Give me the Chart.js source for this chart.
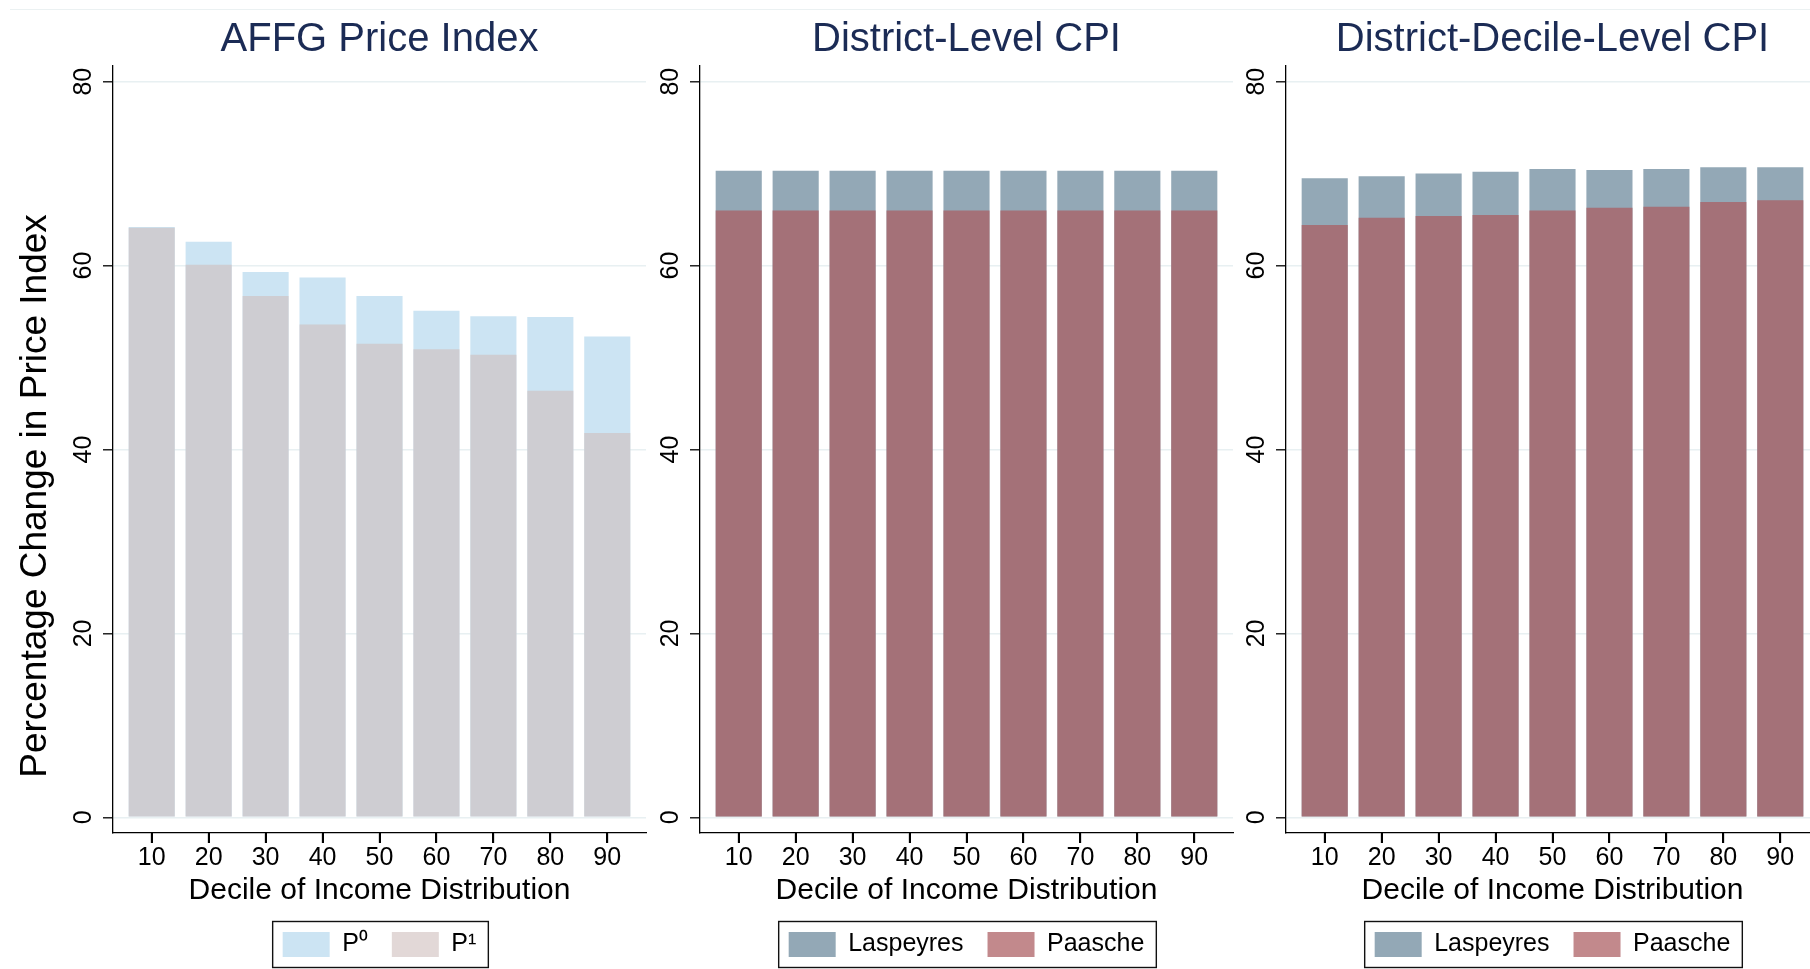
<!DOCTYPE html>
<html>
<head>
<meta charset="utf-8">
<title>Price index change by income decile</title>
<script src="https://cdn.jsdelivr.net/npm/chart.js@4.4.1/dist/chart.umd.min.js"></script>
<style>
  html, body { margin: 0; padding: 0; background: #fff; width: 1810px; height: 969px; overflow: hidden; }
  .panel { position: absolute; top: 0; }
  #topline { position: absolute; left: 10px; top: 9px; width: 1800px; border-top: 1.5px solid #ebf1f2; }
</style>
</head>
<body>
<div id="topline"></div>
<div class="panel" style="left:0px"><canvas id="affg" width="660" height="969"></canvas></div>
<div class="panel" style="left:650px"><canvas id="district" width="600" height="969"></canvas></div>
<div class="panel" style="left:1240px"><canvas id="districtDecile" width="600" height="969"></canvas></div>
<script>
'use strict';

// x positions (deciles) and axis ticks
let deciles = [10, 20, 30, 40, 50, 60, 70, 80, 90];
let xTicks = [10, 20, 30, 40, 50, 60, 70, 80, 90];
let yTicks = [0, 20, 40, 60, 80];

// AFFG price index
let affgP0 = [64.2, 62.6, 59.3, 58.7, 56.7, 55.1, 54.5, 54.4, 52.3];
let affgP1 = [64.1, 60.1, 56.7, 53.6, 51.5, 50.9, 50.3, 46.4, 41.8];

// district-level CPI
let districtLaspeyres = [70.3, 70.3, 70.3, 70.3, 70.3, 70.3, 70.3, 70.3, 70.3];
let districtPaasche = [66.0, 66.0, 66.0, 66.0, 66.0, 66.0, 66.0, 66.0, 66.0];

// district-decile-level CPI
let decileLaspeyres = [69.5, 69.7, 70.0, 70.2, 70.5, 70.4, 70.5, 70.7, 70.7];
let decilePaasche = [64.4, 65.2, 65.4, 65.5, 66.0, 66.3, 66.4, 66.9, 67.1];

Chart.defaults.font.family = '"Liberation Sans", Arial, sans-serif';
Chart.defaults.color = '#000';

// x tick marks, rotated y tick labels, the y title and the frame round the legend
const panelDecor = {
    id: 'panelDecor',
    afterDraw(chart, args, opts) {
        const ctx = chart.ctx;
        const xScale = chart.scales.x;
        const yScale = chart.scales.y;
        const area = chart.chartArea;
        ctx.save();

        ctx.fillStyle = '#000';
        xTicks.forEach(v => {
            let px = Math.round(xScale.getPixelForValue(v));
            ctx.fillRect(px - 1, area.bottom, 2, 10);
        });

        ctx.textAlign = 'center';
        ctx.textBaseline = 'alphabetic';
        ctx.font = '25px "Liberation Sans", Arial, sans-serif';
        yScale.ticks.forEach(t => {
            ctx.save();
            ctx.translate(area.left - 22, yScale.getPixelForValue(t.value));
            ctx.rotate(-Math.PI / 2);
            ctx.fillText(String(t.value), 0, 0);
            ctx.restore();
        });

        if (opts.yTitle) {
            ctx.save();
            ctx.font = '37px "Liberation Sans", Arial, sans-serif';
            ctx.translate(46, 496);
            ctx.rotate(-Math.PI / 2);
            ctx.fillText(opts.yTitle, 0, 0);
            ctx.restore();
        }

        let boxes = chart.legend.legendHitBoxes;
        if (boxes && boxes.length) {
            let first = boxes[0];
            let last = boxes[boxes.length - 1];
            ctx.strokeStyle = '#111';
            ctx.lineWidth = 1.4;
            ctx.strokeRect(first.left - 10, first.top - 10.5, last.left + last.width + 12 - (first.left - 10), first.height + 21);
        }
        ctx.restore();
    }
};

function makePanel(canvasId, title, names, under, over, colors, yWidth, padRight, yTitle) {
    return new Chart(document.getElementById(canvasId), {
        type: 'bar',
        data: {
            datasets: [{
                label: names[0],
                data: deciles.map((d, i) => ({ x: d, y: under[i] })),
                backgroundColor: colors[0],
                borderWidth: 0,
                grouped: false,
                categoryPercentage: 1,
                barPercentage: 0.81,
                order: 2
            }, {
                label: names[1],
                data: deciles.map((d, i) => ({ x: d, y: over[i] })),
                backgroundColor: colors[1],
                borderWidth: 0,
                grouped: false,
                categoryPercentage: 1,
                barPercentage: 0.81,
                order: 1
            }]
        },
        options: {
            responsive: false,
            animation: false,
            layout: { padding: { top: 0, right: padRight, bottom: 2, left: 0 } },
            scales: {
                x: {
                    type: 'linear',
                    min: 3.2,
                    max: 96.8,
                    offset: false,
                    afterBuildTicks: s => { s.ticks = xTicks.map(v => ({ value: v })); },
                    grid: { offset: false, drawOnChartArea: false, tickLength: 10, tickColor: '#000', tickWidth: 1.3 },
                    border: { color: '#000', width: 1.3 },
                    ticks: { color: '#000', font: { size: 25, lineHeight: 1.0 }, padding: 3, maxRotation: 0 },
                    title: {
                        display: true,
                        text: 'Decile of Income Distribution',
                        color: '#000',
                        font: { size: 30, lineHeight: 1.1 },
                        padding: { top: 0, bottom: 1 }
                    }
                },
                y: {
                    min: -1.7,
                    max: 81.7,
                    afterBuildTicks: s => { s.ticks = yTicks.map(v => ({ value: v })); },
                    afterFit: s => { s.width = yWidth; },
                    grid: { color: '#e8f0f2', lineWidth: 1.6, tickLength: 10, tickColor: '#000', tickWidth: 1.3 },
                    border: { color: '#000', width: 1.3 },
                    ticks: { callback: () => '', padding: 0 }
                }
            },
            plugins: {
                title: {
                    display: true,
                    text: title,
                    fullSize: false,
                    color: '#1b2b55',
                    font: { size: 40, weight: 'normal', lineHeight: 1.2 },
                    padding: { top: 16, bottom: 2 }
                },
                legend: {
                    position: 'bottom',
                    fullSize: false,
                    labels: {
                        boxWidth: 47,
                        boxHeight: 25,
                        padding: 24,
                        color: '#000',
                        font: { size: 25 },
                        sort: (a, b) => a.datasetIndex - b.datasetIndex
                    }
                },
                tooltip: { enabled: false },
                panelDecor: { yTitle: yTitle }
            }
        },
        plugins: [panelDecor]
    });
}

makePanel('affg', 'AFFG Price Index', ['P\u2070', 'P\u00b9'], affgP0, affgP1,
    ['#cce4f3', 'rgba(207, 190, 188, 0.6)'], 113, 14, 'Percentage Change in Price Index');
makePanel('district', 'District-Level CPI', ['Laspeyres', 'Paasche'], districtLaspeyres, districtPaasche,
    ['#93a8b6', 'rgba(170, 92, 95, 0.72)'], 50, 17, null);
makePanel('districtDecile', 'District-Decile-Level CPI', ['Laspeyres', 'Paasche'], decileLaspeyres, decilePaasche,
    ['#93a8b6', 'rgba(170, 92, 95, 0.72)'], 46, 21, null);
</script>
</body>
</html>
